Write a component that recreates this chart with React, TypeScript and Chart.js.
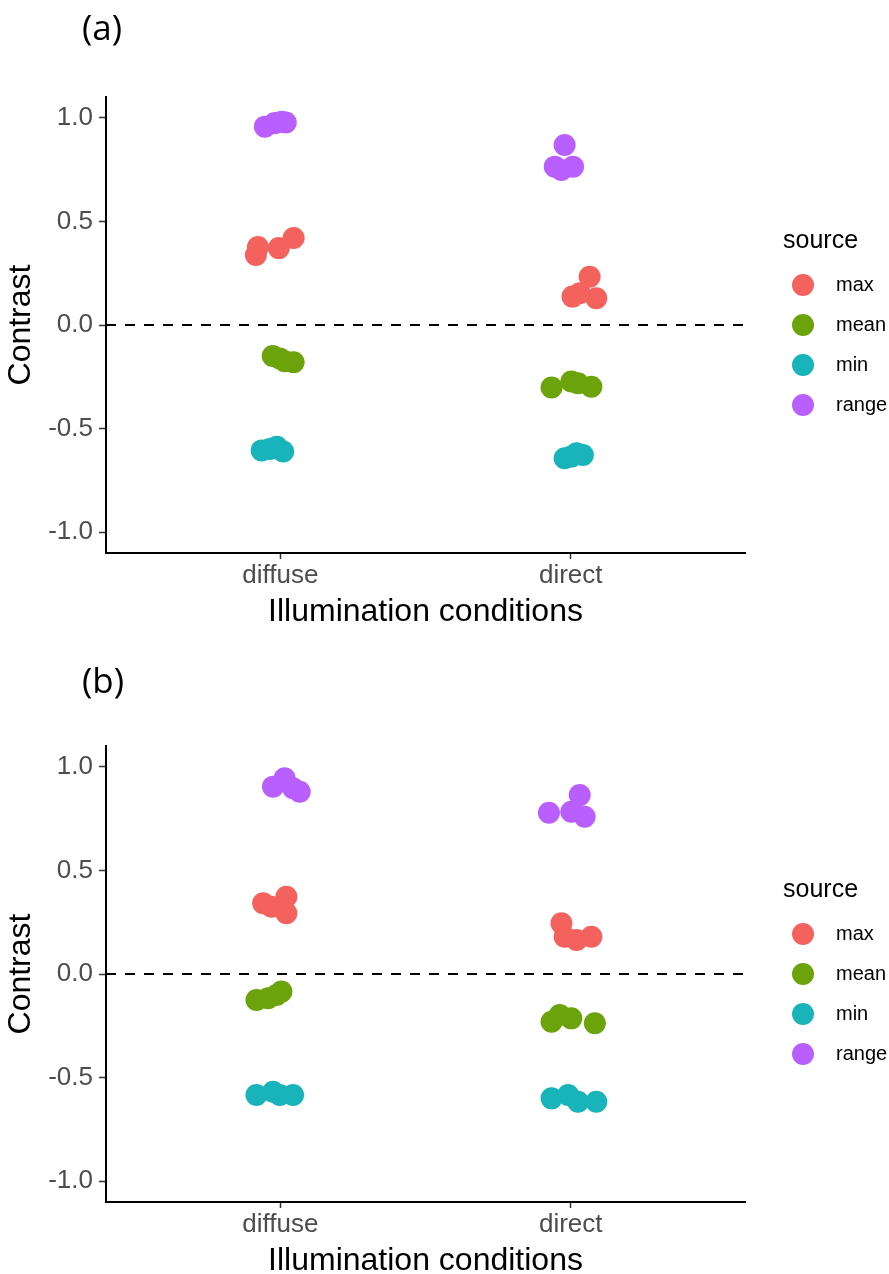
import React, { useEffect, useRef } from 'react';
import { Chart, registerables } from 'chart.js';

Chart.register(...registerables);

const categories = ['diffuse', 'direct'];
const sourceNames = ['max', 'mean', 'min', 'range'];
const sourceColors = ['#F4625E', '#6CA30A', '#19B4B9', '#B95FFF'];
const yTickValues = [-1.0, -0.5, 0.0, 0.5, 1.0];
const xTickValues = [1, 2];
// category index of each point (4 diffuse, 4 direct)
const pointCategory = [1, 1, 1, 1, 2, 2, 2, 2];

// Panel (a)
const aMaxValues = [0.338, 0.376, 0.371, 0.42, 0.233, 0.137, 0.129, 0.153];
const aMaxJitter = [-0.084, -0.077, -0.005, 0.046, 0.065, 0.006, 0.088, 0.031];
const aMeanValues = [-0.15, -0.162, -0.175, -0.18, -0.302, -0.273, -0.281, -0.298];
const aMeanJitter = [-0.026, -0.002, 0.015, 0.046, -0.066, 0.002, 0.025, 0.071];
const aMinValues = [-0.605, -0.598, -0.587, -0.61, -0.643, -0.627, -0.619, -0.635];
const aMinJitter = [-0.064, -0.036, -0.012, 0.01, -0.021, 0.042, 0.02, 0.002];
const aRangeValues = [0.957, 0.974, 0.981, 0.977, 0.868, 0.764, 0.764, 0.748];
const aRangeJitter = [-0.053, -0.019, 0.005, 0.019, -0.021, -0.055, 0.008, -0.032];

// Panel (b)
const bMaxValues = [0.341, 0.325, 0.373, 0.293, 0.245, 0.18, 0.164, 0.18];
const bMaxJitter = [-0.059, -0.03, 0.021, 0.021, -0.032, -0.021, 0.02, 0.071];
const bMeanValues = [-0.125, -0.117, -0.085, -0.101, -0.23, -0.198, -0.214, -0.238];
const bMeanJitter = [-0.082, -0.042, 0.004, -0.013, -0.066, -0.038, 0.002, 0.083];
const bMinValues = [-0.584, -0.568, -0.584, -0.584, -0.6, -0.584, -0.616, -0.616];
const bMinJitter = [-0.082, -0.025, -0.002, 0.044, -0.066, -0.009, 0.025, 0.088];
const bRangeValues = [0.904, 0.944, 0.879, 0.896, 0.778, 0.863, 0.783, 0.759];
const bRangeJitter = [-0.025, 0.015, 0.067, 0.044, -0.075, 0.031, 0.002, 0.048];

const FONT = "'Liberation Sans', Arial, Helvetica, sans-serif";

const ggExtras = {
  id: 'ggExtras',
  afterDraw(chart: any, _args: any, opts: any) {
    const ctx = chart.ctx;
    ctx.save();
    // panel label
    ctx.fillStyle = '#000';
    ctx.textAlign = 'left';
    ctx.textBaseline = 'middle';
    ctx.font = "35px 'Open Sans', sans-serif";
    ctx.fillText(opts.label, 82, opts.labelY);
    // legend
    ctx.font = `25px ${FONT}`;
    ctx.fillText('source', 783, 241);
    ctx.font = `20px ${FONT}`;
    for (let i = 0; i < sourceNames.length; i++) {
      const y = 285 + i * 40;
      ctx.beginPath();
      ctx.arc(803, y, 11, 0, Math.PI * 2);
      ctx.fillStyle = sourceColors[i];
      ctx.fill();
      ctx.fillStyle = '#000';
      ctx.fillText(sourceNames[i], 836, y);
    }
    ctx.restore();
  },
};

function makeConfig(label: string, labelY: number, values: number[][], jitters: number[][]) {
  const datasets: any[] = [
    {
      type: 'line',
      label: 'zero',
      data: [
        { x: 0.4, y: 0 },
        { x: 2.6, y: 0 },
      ],
      borderColor: '#000',
      borderWidth: 2,
      borderDash: [10, 9],
      pointRadius: 0,
      fill: false,
      order: 10,
    },
  ];
  for (let s = 0; s < sourceNames.length; s++) {
    datasets.push({
      type: 'scatter',
      label: sourceNames[s],
      data: values[s].map((v, k) => ({ x: pointCategory[k] + jitters[s][k], y: v })),
      backgroundColor: sourceColors[s],
      borderWidth: 0,
      pointRadius: 11,
      pointHoverRadius: 11,
      order: 1,
    });
  }
  return {
    type: 'scatter',
    data: { datasets },
    plugins: [ggExtras],
    options: {
      responsive: false,
      animation: false,
      events: [],
      layout: { padding: { left: 2, right: 144, top: 97, bottom: 14 } },
      plugins: {
        legend: { display: false },
        tooltip: { enabled: false },
        ggExtras: { label, labelY },
      },
      scales: {
        x: {
          type: 'linear',
          min: 0.4,
          max: 2.6,
          afterBuildTicks: (s: any) => {
            s.ticks = xTickValues.map((v) => ({ value: v }));
          },
          afterFit: (s: any) => {
            s.height = 82;
          },
          ticks: {
            callback: (v: any) => categories[Math.round(Number(v)) - 1],
            font: { family: FONT, size: 26 },
            color: '#4D4D4D',
            padding: 1,
            maxRotation: 0,
            autoSkip: false,
          },
          grid: {
            drawOnChartArea: false,
            drawTicks: true,
            tickLength: 6,
            tickColor: '#333333',
            tickWidth: 1.5,
          },
          border: { display: true, color: '#000', width: 2 },
          title: {
            display: true,
            text: 'Illumination conditions',
            font: { family: FONT, size: 32 },
            color: '#000',
            padding: { top: 4, bottom: 4 },
          },
        },
        y: {
          type: 'linear',
          min: -1.1,
          max: 1.1,
          afterBuildTicks: (s: any) => {
            s.ticks = yTickValues.map((v) => ({ value: v }));
          },
          afterFit: (s: any) => {
            s.width = 104;
          },
          ticks: {
            callback: (v: any) => Number(v).toFixed(1),
            font: { family: FONT, size: 26 },
            color: '#4D4D4D',
            padding: 6,
          },
          grid: {
            drawOnChartArea: false,
            drawTicks: true,
            tickLength: 7,
            tickColor: '#333333',
            tickWidth: 1.5,
          },
          border: { display: true, color: '#000', width: 2 },
          title: {
            display: true,
            text: 'Contrast',
            font: { family: FONT, size: 32 },
            color: '#000',
            padding: { top: 0, bottom: 0 },
          },
        },
      },
    },
  };
}

function Panel(props: { top: number; label: string; labelY: number; values: number[][]; jitters: number[][] }) {
  const ref = useRef<HTMLCanvasElement | null>(null);
  useEffect(() => {
    if (!ref.current) return;
    const chart = new Chart(ref.current, makeConfig(props.label, props.labelY, props.values, props.jitters) as any);
    return () => chart.destroy();
  }, []);
  return (
    <canvas
      ref={ref}
      width={889}
      height={649}
      style={{ position: 'absolute', left: 0, top: props.top, width: 889, height: 649, display: 'block' }}
    />
  );
}

export default function App() {
  return (
    <div
      style={{
        position: 'fixed',
        left: 0,
        top: 0,
        width: 889,
        height: 1274,
        overflow: 'hidden',
        background: '#fff',
      }}
    >
      <Panel
        top={0}
        label="(a)"
        labelY={30}
        values={[aMaxValues, aMeanValues, aMinValues, aRangeValues]}
        jitters={[aMaxJitter, aMeanJitter, aMinJitter, aRangeJitter]}
      />
      <Panel
        top={649}
        label="(b)"
        labelY={34}
        values={[bMaxValues, bMeanValues, bMinValues, bRangeValues]}
        jitters={[bMaxJitter, bMeanJitter, bMinJitter, bRangeJitter]}
      />
    </div>
  );
}
